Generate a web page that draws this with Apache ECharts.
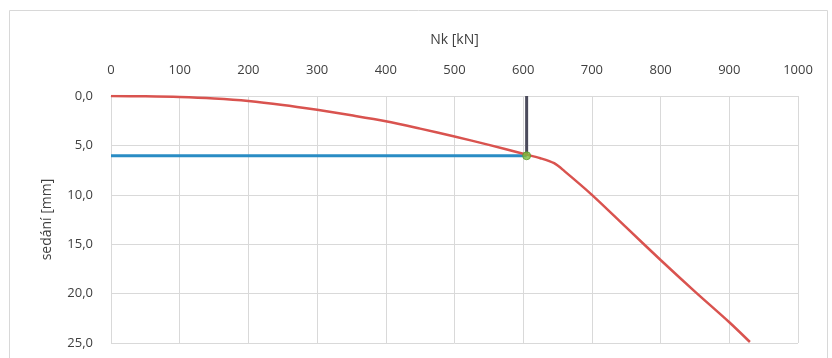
<!DOCTYPE html>
<html>
<head>
<meta charset="utf-8">
<script src="https://cdn.jsdelivr.net/npm/echarts@6/dist/echarts.min.js"></script>
<style>html,body{margin:0;padding:0;background:#fff}#c{width:832px;height:358px}</style>
</head>
<body>
<div id="c"></div>
<script>
var loads  = [0, 50, 100, 150, 200, 250, 300, 350, 400, 450, 500, 550, 600, 625, 645, 660, 700, 750, 800, 850, 900, 930];
var settle = [0, 0.03, 0.1, 0.25, 0.5, 0.9, 1.4, 1.95, 2.55, 3.3, 4.1, 4.95, 5.85, 6.3, 6.8, 7.6, 10.0, 13.3, 16.6, 19.8, 22.9, 24.9];
var limitLoad = 605;
var limitSettle = 6.05;
var xTicks = [0, 100, 200, 300, 400, 500, 600, 700, 800, 900, 1000];
var yTicks = [0, 5, 10, 15, 20, 25];

var curve = loads.map(function (v, i) { return [v, settle[i]]; });
var chart = echarts.init(document.getElementById('c'));
var font = 'Open Sans, Liberation Sans, sans-serif';
chart.setOption({
  animation: false,
  backgroundColor: '#ffffff',
  graphic: [{
    type: 'rect', left: 7, top: 8,
    shape: { width: 818, height: 360 },
    style: { fill: 'none', stroke: '#d8d8d8', lineWidth: 1 }
  }],
  grid: { left: 111, right: 34, top: 96, bottom: 15 },
  xAxis: {
    type: 'value', position: 'top',
    min: xTicks[0], max: xTicks[xTicks.length - 1], interval: 100,
    name: 'Nk [kN]', nameLocation: 'middle', nameGap: 49,
    nameTextStyle: { color: '#404040', fontSize: 14, fontFamily: font },
    axisLine: { show: true, lineStyle: { color: '#d9d9d9' } },
    axisTick: { show: false },
    axisLabel: { color: '#404040', fontSize: 13, fontFamily: font, margin: 19,
      formatter: function (v) { return String(v); } },
    splitLine: { show: true, lineStyle: { color: '#d9d9d9', width: 1 } }
  },
  yAxis: {
    type: 'value', inverse: true,
    min: yTicks[0], max: yTicks[yTicks.length - 1], interval: 5,
    name: 'sedání [mm]', nameLocation: 'middle', nameGap: 57,
    nameTextStyle: { color: '#404040', fontSize: 14, fontFamily: font },
    axisLine: { show: true, lineStyle: { color: '#d9d9d9' } },
    axisTick: { show: false },
    axisLabel: {
      color: '#404040', fontSize: 13, fontFamily: font, margin: 18,
      formatter: function (v) { return v.toFixed(1).replace('.', ','); }
    },
    splitLine: { show: true, lineStyle: { color: '#d9d9d9', width: 1 } }
  },
  series: [
    {
      type: 'line', data: curve, showSymbol: false, smooth: 0.3,
      lineStyle: { color: '#d9534f', width: 2.5 }, z: 3
    },
    {
      type: 'line', data: [[0, limitSettle], [limitLoad, limitSettle]], showSymbol: false,
      lineStyle: { color: '#2a8cc4', width: 3 }, z: 2
    },
    {
      type: 'line', data: [[limitLoad, 0], [limitLoad, limitSettle]], showSymbol: false,
      lineStyle: { color: '#4b4b5c', width: 3 }, z: 2
    },
    {
      type: 'scatter', data: [[limitLoad, limitSettle]], symbolSize: 8,
      itemStyle: { color: '#7dbb3c', borderColor: '#5a9a2a', borderWidth: 1 }, z: 5
    }
  ]
});
</script>
</body>
</html>
